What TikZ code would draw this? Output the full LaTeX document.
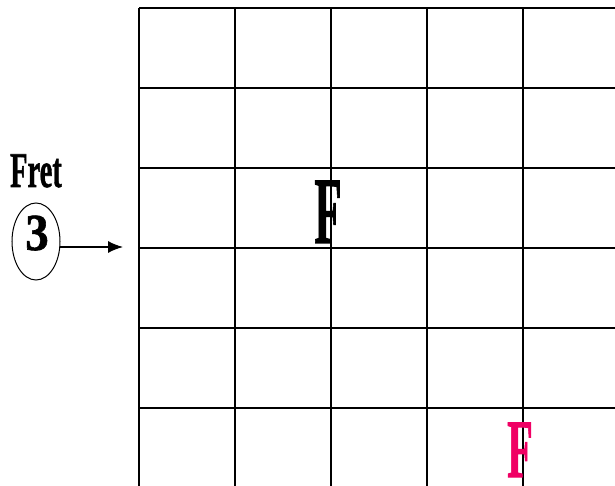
\documentclass[tikz,border=0pt]{standalone}
\usepackage{fontspec}
\setmainfont{Liberation Serif}[BoldFeatures={FakeBold=1.2}]
\usetikzlibrary{shapes.geometric,arrows.meta,positioning}
\definecolor{notepink}{RGB}{240,0,100}

\begin{document}
\begin{tikzpicture}[x=1pt,y=-1pt, every node/.style={inner sep=0pt, outer sep=0pt}]
    \useasboundingbox (0,0) rectangle (615,486);
    % fretboard
    \foreach \x in {139,235,331,427,523} \draw[line width=2pt] (\x,8) -- (\x,486);
    \foreach \y in {8,88,168,248,328,408} \draw[line width=2pt] (139,\y) -- (615,\y);
    % fret marker
    \node[anchor=base, font=\fontsize{50}{50}\selectfont\bfseries] (fret) at (36,187) {\scalebox{0.57}[1]{Fret}};
    \node[draw, ellipse, line width=1pt, minimum width=48, minimum height=77] (num) at (36,241.5) {};
    \node[anchor=base, font=\fontsize{52}{52}\selectfont\bfseries] (three) at (37,250) {\scalebox{0.9}[1]{3}};
    \coordinate (tip) at (123,247);
    \draw[line width=1.3pt, -{Latex[length=15pt,width=12pt]}] (num.east |- tip) -- (tip);
    % notes
    \node[anchor=base, font=\fontsize{95}{95}\selectfont\bfseries] (f1) at (328,243) {\scalebox{0.47}[1]{F}};
    \node[anchor=base, text=notepink, font=\fontsize{83}{83}\selectfont\bfseries] (f2) at (520,477) {\scalebox{0.51}[1]{F}};
\end{tikzpicture}
\end{document}
